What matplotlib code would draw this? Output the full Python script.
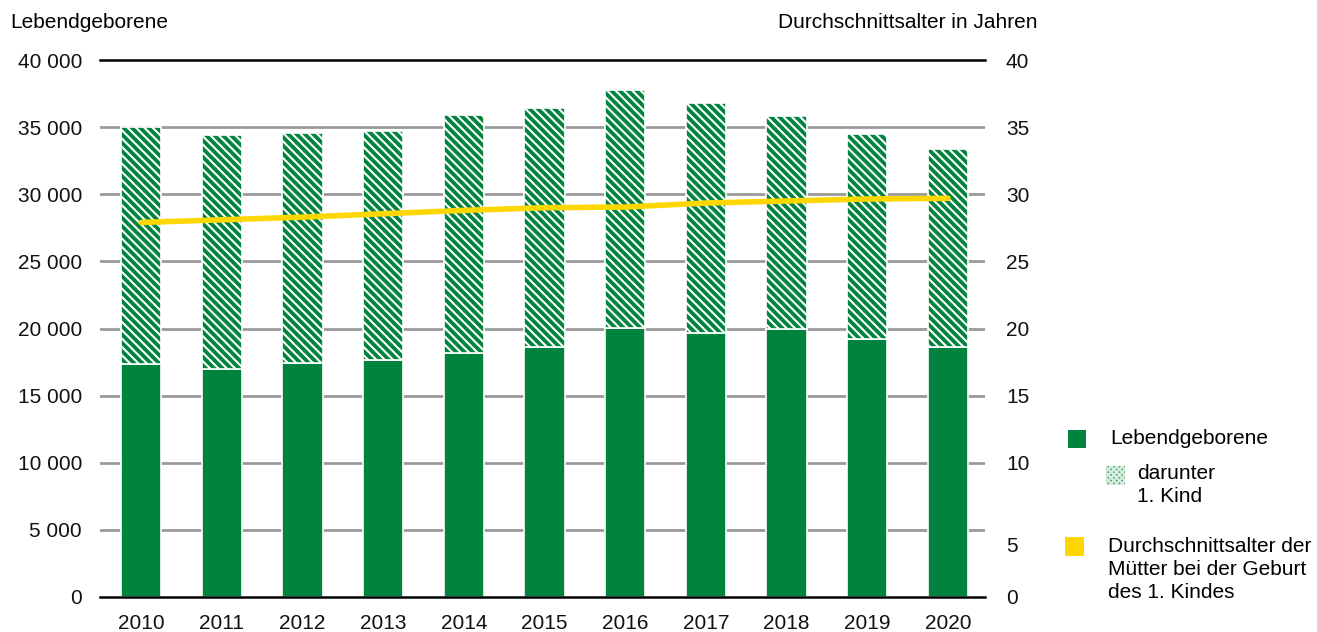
import matplotlib
matplotlib.use("Agg")
import matplotlib.pyplot as plt
import matplotlib.transforms as mtransforms
from matplotlib.patches import Rectangle

plt.rcParams['font.family'] = ['Liberation Sans', 'DejaVu Sans']
plt.rcParams['hatch.linewidth'] = 1.5

years = ["2010", "2011", "2012", "2013", "2014", "2015", "2016", "2017", "2018", "2019", "2020"]
total = [35000, 34400, 34600, 34700, 35900, 36400, 37800, 36800, 35800, 34500, 33400]
first_child = [17350, 16950, 17450, 17650, 18200, 18650, 20050, 19700, 19950, 19200, 18650]
mean_age = [27.9, 28.1, 28.3, 28.55, 28.8, 29.0, 29.05, 29.35, 29.5, 29.65, 29.7]

left_ticks = [0, 5000, 10000, 15000, 20000, 25000, 30000, 35000, 40000]
left_labels = ["0", "5 000", "10 000", "15 000", "20 000", "25 000", "30 000", "35 000", "40 000"]
right_ticks = [0, 5, 10, 15, 20, 25, 30, 35, 40]

GREEN = "#00843D"
YELLOW = "#FFD700"
GRID = "#9A9A9A"
FS = 15

fig = plt.figure(figsize=(13.17, 6.32), dpi=100)
ax = fig.add_axes([0.076, 0.0554, 0.672, 0.8496])
x = list(range(len(years)))

ax.bar(x, first_child, width=0.5, color=GREEN, edgecolor="white", linewidth=1.2, zorder=3)
rest = [t - f for t, f in zip(total, first_child)]
ax.bar(x, rest, width=0.5, bottom=first_child, color=GREEN, edgecolor="white",
       linewidth=1.2, hatch="\\" * 4, zorder=3)

ax.set_xlim(-0.51, 10.46)
ax.set_ylim(0, 40000)
ax.set_yticks(left_ticks)
ax.set_yticklabels(left_labels)
ax.set_xticks(x)
ax.set_xticklabels(years)
for yv in left_ticks[1:-1]:
    ax.axhline(yv, color=GRID, lw=2, zorder=1)
ax.axhline(40000, color="black", lw=1.8, zorder=1, clip_on=False)
ax.axhline(0, color="black", lw=1.8, zorder=4, clip_on=False)
for s in ax.spines.values():
    s.set_visible(False)
ax.tick_params(axis="both", length=0, labelsize=FS, colors="#111111")
ax.tick_params(axis="y", pad=13)
ax.tick_params(axis="x", pad=12)

ax2 = ax.twinx()
ax2.set_ylim(0, 40)
ax2.plot(x, mean_age, color=YELLOW, lw=4, solid_capstyle="round", zorder=5)
ax2.set_yticks(right_ticks)
ax2.set_yticklabels([str(v) for v in right_ticks])
for s in ax2.spines.values():
    s.set_visible(False)
ax2.tick_params(axis="y", length=0, labelsize=FS, pad=15, colors="#111111")
lab5 = ax2.get_yticklabels()[1]
lab5.set_transform(lab5.get_transform() + mtransforms.ScaledTranslation(0, -15 / 100, fig.dpi_scale_trans))

fig.text(10 / 1317, 1 - 22 / 632, "Lebendgeborene", fontsize=FS, va="center", ha="left")
fig.text(1037 / 1317, 1 - 22 / 632, "Durchschnittsalter in Jahren", fontsize=FS, va="center", ha="right")

# legend
def px(xp, yp):
    return xp / 1317, 1 - yp / 632

def square(x0, y0, w, h, **kw):
    fig.patches.append(Rectangle(px(x0, y0 + h), w / 1317, h / 632, transform=fig.transFigure, **kw))

square(1068, 430, 18, 18, facecolor=GREEN, edgecolor="none")
fig.text(*px(1110, 438), "Lebendgeborene", fontsize=FS, va="center", ha="left")
square(1106, 466, 19, 19, facecolor="#5fae80", edgecolor="#d8eee0", hatch="xxxxxx", linewidth=0)
fig.text(*px(1137, 464), "darunter\n1. Kind", fontsize=FS, va="top", ha="left", linespacing=1.3)
square(1065, 537, 19, 19, facecolor=YELLOW, edgecolor="none")
fig.text(*px(1108, 537), "Durchschnittsalter der\nMütter bei der Geburt\ndes 1. Kindes", fontsize=FS,
         va="top", ha="left", linespacing=1.25)

fig.savefig("out.png", dpi=100)
